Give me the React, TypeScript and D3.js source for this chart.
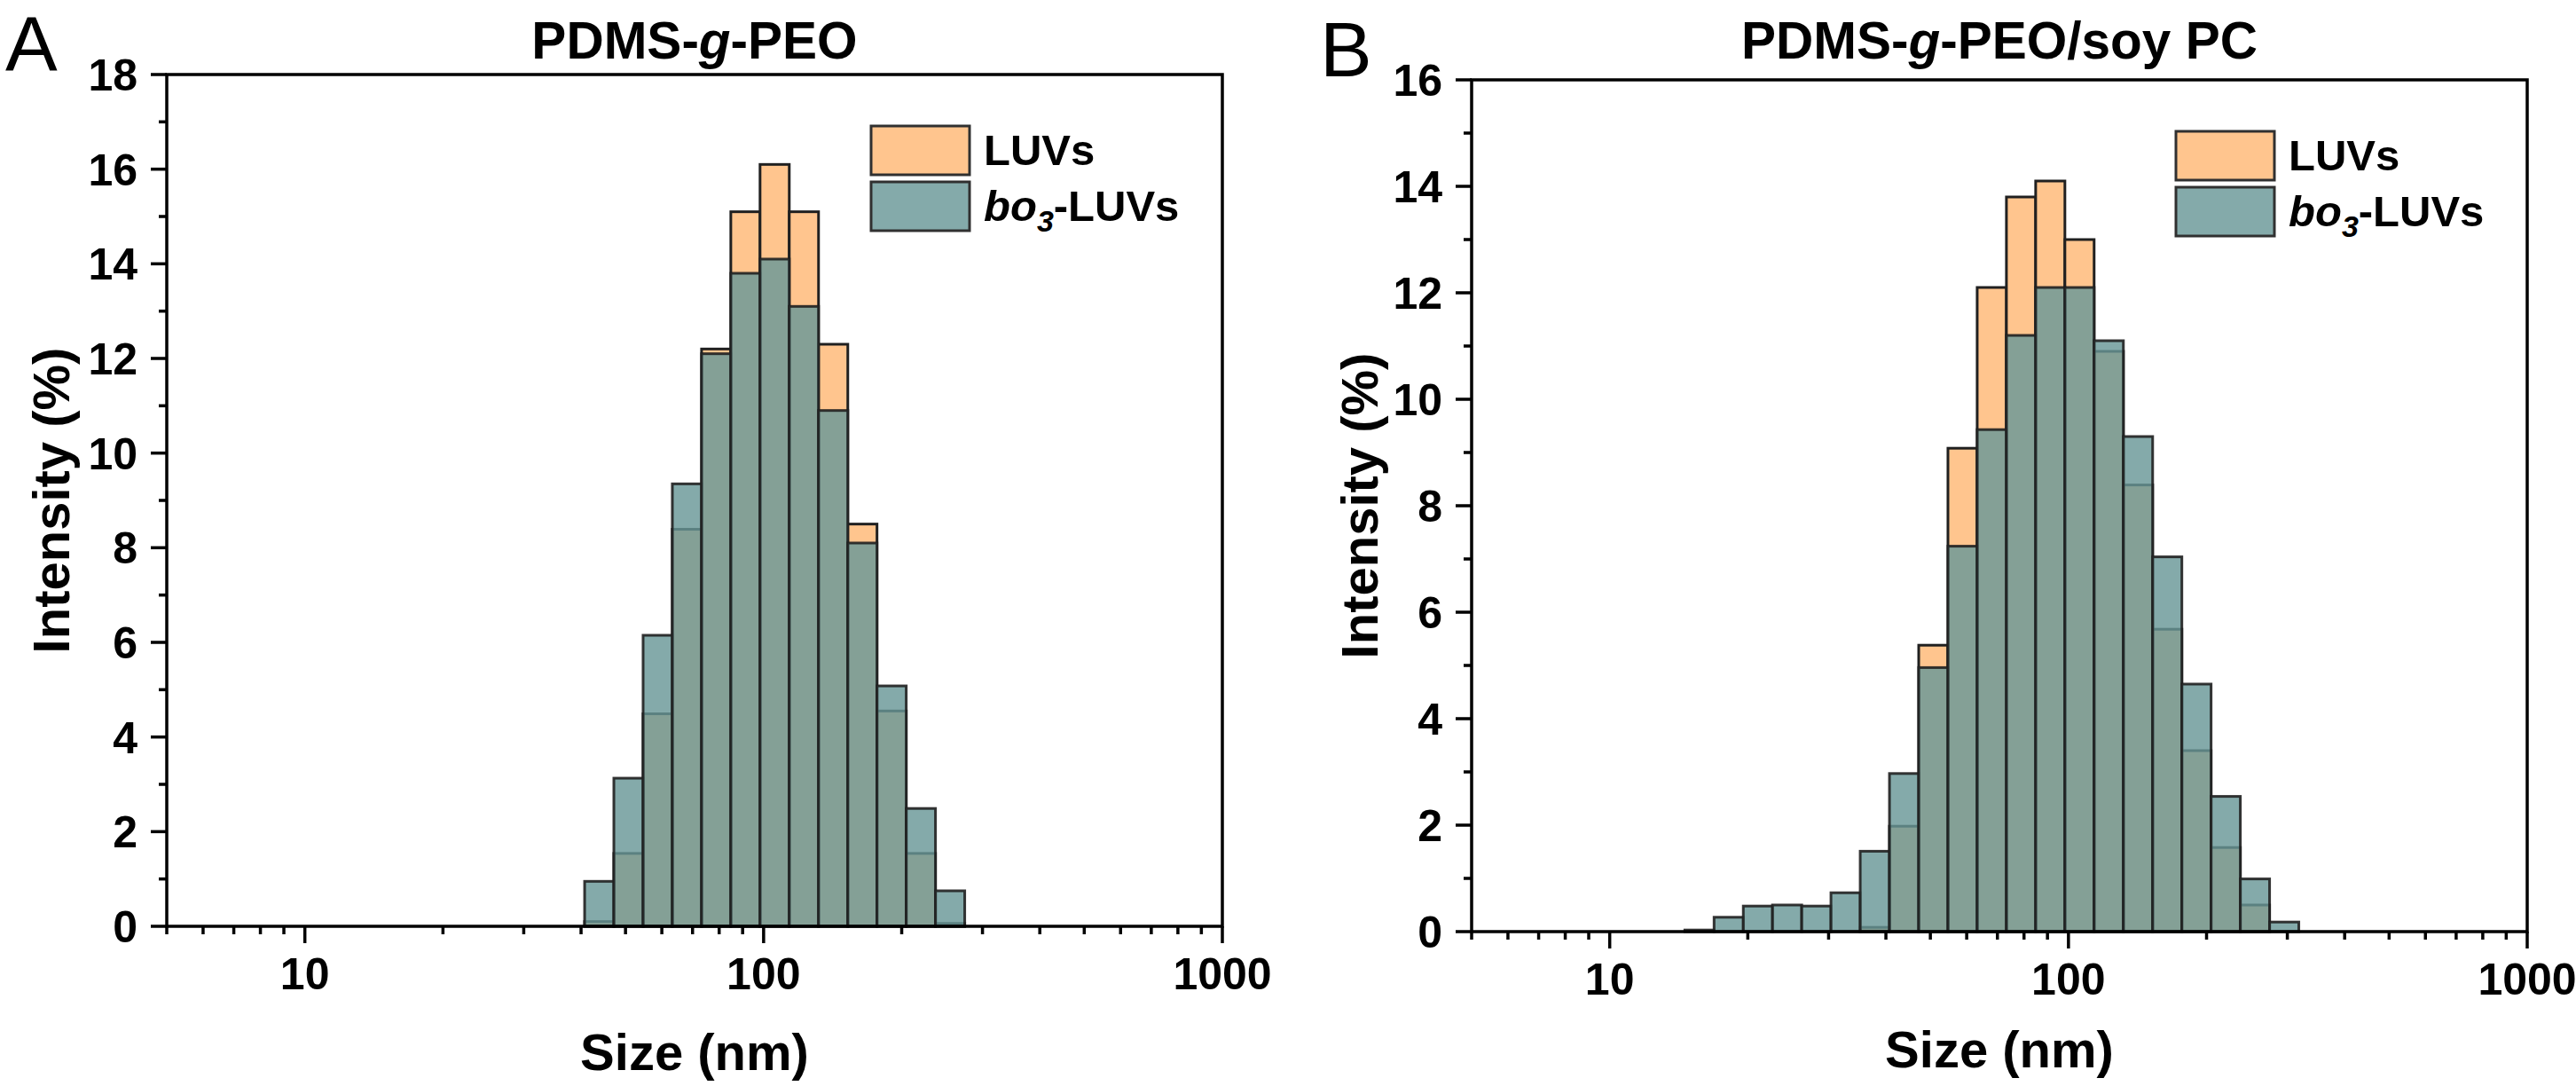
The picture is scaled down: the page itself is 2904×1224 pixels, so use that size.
import { useEffect, useRef } from 'react'
import * as d3 from 'd3'

// DLS size classes (nm), bar centres
const sizes = [15.69, 18.17, 21.04, 24.36, 28.21, 32.67, 37.84, 43.82, 50.75, 58.77, 68.06,
  78.82, 91.28, 105.7, 122.4, 141.8, 164.2, 190.1, 220.2, 255.0, 295.3]

// Panel A: PDMS-g-PEO, intensity (%)
const luvsA = [0, 0, 0, 0, 0, 0, 0, 0.1, 1.54, 4.49, 8.39, 12.2, 15.1, 16.1, 15.1, 12.3, 8.5, 4.55, 1.54, 0.06, 0]
const bo3A = [0, 0, 0, 0, 0, 0, 0, 0.95, 3.13, 6.15, 9.35, 12.1, 13.8, 14.1, 13.1, 10.9, 8.1, 5.08, 2.49, 0.75, 0]

// Panel B: PDMS-g-PEO/soy PC, intensity (%)
const luvsB = [0, 0, 0, 0, 0, 0, 0.08, 1.98, 5.38, 9.08, 12.1, 13.8, 14.1, 13.0, 10.9, 8.39, 5.68, 3.4, 1.58, 0.5, 0]
const bo3B = [0.03, 0.27, 0.48, 0.5, 0.48, 0.73, 1.51, 2.97, 4.96, 7.24, 9.43, 11.2, 12.1, 12.1, 11.1, 9.3, 7.04, 4.65, 2.54, 0.99, 0.18]

const xMajor = [10, 100, 1000]
const seriesNames = ['LUVs', 'bo3-LUVs']

const ORANGE = '#FFC58E'
const TEAL = 'rgb(105,151,151)'
const TEAL_ALPHA = 0.82
const EDGE = '#202020'
const FONT = "'Liberation Sans', Arial, sans-serif"

type Panel = {
  letter: string
  titleTail: string
  left: number
  right: number
  top: number
  bottom: number
  yMax: number
  letterX: number
  letterY: number
  yLabelX: number
  xLabelY: number
  luvs: number[]
  bo3: number[]
}

const panels: Panel[] = [
  { letter: 'A', titleTail: '-PEO', left: 188, right: 1378, top: 84, bottom: 1044, yMax: 18,
    letterX: 6, letterY: 80, yLabelX: 78, xLabelY: 1206, luvs: luvsA, bo3: bo3A },
  { letter: 'B', titleTail: '-PEO/soy PC', left: 1659, right: 2849, top: 90, bottom: 1050, yMax: 16,
    letterX: 1488, letterY: 86, yLabelX: 1553, xLabelY: 1203, luvs: luvsB, bo3: bo3B },
]

function drawPanel(svg: d3.Selection<SVGSVGElement, unknown, null, undefined>, p: Panel) {
  const x = d3.scaleLog().domain([5, 1000]).range([p.left, p.right])
  const y = d3.scaleLinear().domain([0, p.yMax]).range([p.bottom, p.top])
  const g = svg.append('g')

  // bar edges at geometric midpoints between neighbouring size classes
  const bins = sizes.map((s, i) => {
    const prev = i > 0 ? sizes[i - 1] : s * s / sizes[1]
    const next = i < sizes.length - 1 ? sizes[i + 1] : s * s / sizes[i - 1]
    return { lo: Math.sqrt(prev * s), hi: Math.sqrt(s * next), luvs: p.luvs[i], bo3: p.bo3[i] }
  })

  g.selectAll('rect.luvs').data(bins.filter(b => b.luvs > 0)).join('rect')
    .attr('x', b => x(b.lo)).attr('width', b => x(b.hi) - x(b.lo))
    .attr('y', b => y(b.luvs)).attr('height', b => y(0) - y(b.luvs))
    .attr('fill', ORANGE).attr('stroke', EDGE).attr('stroke-width', 3)

  g.selectAll('rect.bo3').data(bins.filter(b => b.bo3 > 0)).join('rect')
    .attr('x', b => x(b.lo)).attr('width', b => x(b.hi) - x(b.lo))
    .attr('y', b => y(b.bo3)).attr('height', b => y(0) - y(b.bo3))
    .attr('fill', TEAL).attr('fill-opacity', TEAL_ALPHA)
    .attr('stroke', EDGE).attr('stroke-opacity', 0.9).attr('stroke-width', 3)

  // frame
  g.append('rect').attr('x', p.left).attr('y', p.top)
    .attr('width', p.right - p.left).attr('height', p.bottom - p.top)
    .attr('fill', 'none').attr('stroke', '#000').attr('stroke-width', 3.5)

  // y ticks
  const yMajor = d3.range(0, p.yMax + 1, 2)
  const yMinor = d3.range(1, p.yMax, 2)
  g.selectAll('line.ymaj').data(yMajor).join('line')
    .attr('x1', p.left - 18).attr('x2', p.left).attr('y1', d => y(d)).attr('y2', d => y(d))
    .attr('stroke', '#000').attr('stroke-width', 3.5)
  g.selectAll('line.ymin').data(yMinor).join('line')
    .attr('x1', p.left - 9).attr('x2', p.left).attr('y1', d => y(d)).attr('y2', d => y(d))
    .attr('stroke', '#000').attr('stroke-width', 3.5)
  g.selectAll('text.ylab').data(yMajor).join('text')
    .attr('x', p.left - 33).attr('y', d => y(d) + 18)
    .attr('text-anchor', 'end').attr('font-size', 50).attr('font-weight', 'bold')
    .attr('font-family', FONT).text(d => d)

  // x ticks (log)
  const xMinor: number[] = []
  ;[1, 10, 100].forEach(dec => d3.range(2, 10).forEach(m => {
    const v = dec * m
    if (v >= 5 && v <= 1000) xMinor.push(v)
  }))
  g.selectAll('line.xmaj').data(xMajor).join('line')
    .attr('x1', d => x(d)).attr('x2', d => x(d)).attr('y1', p.bottom).attr('y2', p.bottom + 19)
    .attr('stroke', '#000').attr('stroke-width', 3.5)
  g.selectAll('line.xmin').data(xMinor).join('line')
    .attr('x1', d => x(d)).attr('x2', d => x(d)).attr('y1', p.bottom).attr('y2', p.bottom + 9)
    .attr('stroke', '#000').attr('stroke-width', 3.5)
  g.selectAll('text.xlab').data(xMajor).join('text')
    .attr('x', d => x(d)).attr('y', p.bottom + 71)
    .attr('text-anchor', 'middle').attr('font-size', 50).attr('font-weight', 'bold')
    .attr('font-family', FONT).text(d => d)

  // axis titles
  g.append('text').attr('x', (p.left + p.right) / 2).attr('y', p.xLabelY)
    .attr('text-anchor', 'middle').attr('font-size', 58).attr('font-weight', 'bold')
    .attr('font-family', FONT).text('Size (nm)')
  g.append('text')
    .attr('transform', `translate(${p.yLabelX},${(p.top + p.bottom) / 2}) rotate(-90)`)
    .attr('text-anchor', 'middle').attr('font-size', 58).attr('font-weight', 'bold')
    .attr('font-family', FONT).text('Intensity (%)')

  // panel title
  const title = g.append('text').attr('x', (p.left + p.right) / 2).attr('y', 66)
    .attr('text-anchor', 'middle').attr('font-size', 58.5).attr('font-weight', 'bold')
    .attr('font-family', FONT)
  title.append('tspan').text('PDMS-')
  title.append('tspan').attr('font-style', 'italic').text('g')
  title.append('tspan').text(p.titleTail)

  // panel letter
  g.append('text').attr('x', p.letterX).attr('y', p.letterY)
    .attr('font-size', 88).attr('font-family', FONT).text(p.letter)

  // legend
  const lx = p.right - 396
  const ly = p.top + 58
  const swatches = [ORANGE, TEAL]
  seriesNames.forEach((name, i) => {
    const row = g.append('g').attr('transform', `translate(${lx},${ly + i * 63})`)
    row.append('rect').attr('x', 0).attr('y', 0).attr('width', 111).attr('height', 55)
      .attr('fill', swatches[i]).attr('fill-opacity', i === 1 ? TEAL_ALPHA : 1)
      .attr('stroke', '#303030').attr('stroke-width', 3)
    const t = row.append('text').attr('x', 127).attr('y', 44)
      .attr('font-size', 49).attr('font-weight', 'bold').attr('font-family', FONT)
    if (name.startsWith('bo3')) {
      t.append('tspan').attr('font-style', 'italic').text('bo')
      t.append('tspan').attr('font-style', 'italic').attr('font-size', 34).attr('dy', 12).text('3')
      t.append('tspan').attr('dy', -12).text('-LUVs')
    } else {
      t.text(name)
    }
  })
}

export default function App() {
  const svgRef = useRef<SVGSVGElement | null>(null)

  useEffect(() => {
    if (!svgRef.current) return
    const svg = d3.select(svgRef.current)
    svg.selectAll('*').remove()
    svg.append('rect').attr('width', 2904).attr('height', 1224).attr('fill', '#fff')
    panels.forEach(p => drawPanel(svg, p))
  }, [])

  return (
    <div style={{ position: 'absolute', left: 0, top: 0 }}>
      <svg ref={svgRef} width={2904} height={1224} viewBox="0 0 2904 1224" style={{ display: 'block' }} />
    </div>
  )
}
